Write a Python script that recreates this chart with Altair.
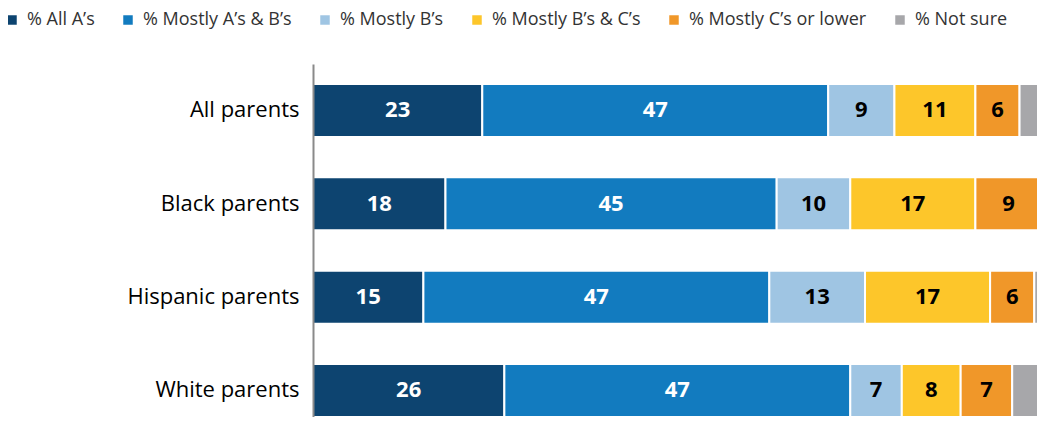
import altair as alt
import pandas as pd

groups = ["All parents", "Black parents", "Hispanic parents", "White parents"]
categories = ["% All A’s", "% Mostly A’s & B’s", "% Mostly B’s",
              "% Mostly B’s & C’s", "% Mostly C’s or lower", "% Not sure"]
colors = ["#0d4470", "#127bbf", "#9fc5e3", "#fdc62a", "#f09729", "#a7a7aa"]

all_parents = [23, 47, 9, 11, 6, 3]
black_parents = [18, 45, 10, 17, 9, 1]
hispanic_parents = [15, 47, 13, 17, 6, 2]
white_parents = [26, 47, 7, 8, 7, 4]

rows = []
for g, vals in zip(groups, [all_parents, black_parents, hispanic_parents, white_parents]):
    for i, (c, v) in enumerate(zip(categories, vals)):
        rows.append({"group": g, "category": c, "value": v, "order": i,
                     "label": "" if i == 5 else str(v)})
df = pd.DataFrame(rows)

base = alt.Chart(df).transform_window(
    cum="sum(value)", groupby=["group"], sort=[alt.SortField("order")], frame=[None, 0]
).transform_calculate(
    start="datum.cum - datum.value", mid="datum.cum - datum.value / 2"
)

FONT = "Open Sans"
xscale = alt.Scale(domain=[0, 98.37], nice=False)
yscale = alt.Scale(domain=groups, paddingInner=0.4321, paddingOuter=0.1071, align=1)

bars = base.mark_bar(stroke="white", strokeWidth=2, clip=True).encode(
    x=alt.X("start:Q", scale=xscale, axis=None),
    x2="cum:Q",
    y=alt.Y("group:N", scale=yscale, sort=groups,
            axis=alt.Axis(title=None, ticks=False, labelFontSize=22, labelColor="black",
                          labelFont=FONT, labelPadding=14, domainColor="#8a8a8a",
                          domainWidth=2, labelLimit=300, zindex=1)),
    color=alt.Color("category:N", scale=alt.Scale(domain=categories, range=colors),
                    legend=alt.Legend(orient="none", legendX=-310, legendY=-53,
                                      direction="horizontal", title=None,
                                      symbolType="square", symbolSize=90,
                                      symbolStrokeWidth=0, labelFontSize=18,
                                      labelFont=FONT, labelColor="#333333",
                                      columnPadding=24, labelOffset=6, labelLimit=400)),
)

text = base.transform_filter("datum.order < 5").mark_text(
    font=FONT, fontWeight="bold", fontSize=22
).encode(
    x=alt.X("mid:Q", scale=xscale),
    y=alt.Y("group:N", scale=yscale, sort=groups),
    text="label:N",
    color=alt.condition("datum.order < 2", alt.value("white"), alt.value("black")),
)

chart = alt.layer(bars, text).properties(
    width=724, height=353,
    autosize=alt.AutoSizeParams(type="none"),
    padding={"left": 305, "top": 56, "right": 0, "bottom": 0},
).configure_view(stroke=None)

chart.save("out.html", embed_options={"renderer": "svg", "actions": False})
